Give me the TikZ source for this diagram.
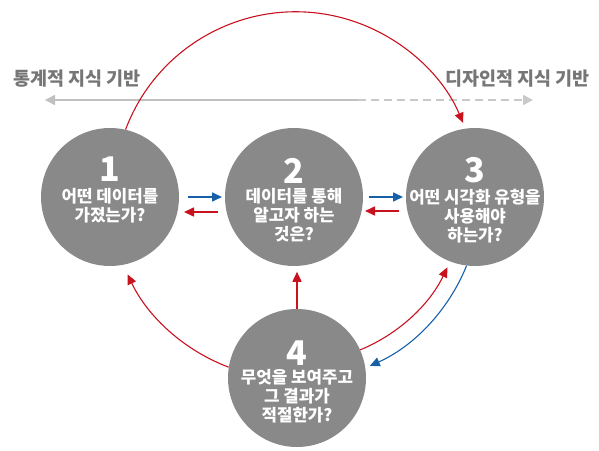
\documentclass[tikz,border=0pt]{standalone}
\usepackage{fontspec}
\newfontfamily\kr{Noto Sans CJK KR}
\usetikzlibrary{arrows.meta,calc}
\definecolor{cgray}{RGB}{137,137,137}
\definecolor{cred}{RGB}{200,18,30}
\definecolor{cblue}{RGB}{22,96,168}
\definecolor{lgray}{RGB}{192,192,192}
\definecolor{tgray}{RGB}{118,118,118}
\begin{document}
\begin{tikzpicture}[x=1pt,y=1pt,
  circ/.style={circle,fill=cgray,minimum size=138pt,inner sep=0pt},
  num/.style={text=white,font=\kr\bfseries\fontsize{34}{34}\selectfont,inner sep=0pt,anchor=north},
  lbl/.style={text=white,font=\kr\bfseries\fontsize{16.8}{19}\selectfont,inner sep=0pt,anchor=north,align=center},
  toplbl/.style={text=tgray,font=\kr\bfseries\fontsize{18.5}{18.5}\selectfont,inner sep=0pt},
  redarr/.style={draw=cred,line width=1.1pt,-{Triangle[length=10pt,width=9pt]}},
  bluearr/.style={draw=cblue,line width=1.1pt,-{Triangle[length=10pt,width=9pt]}},
  hred/.style={draw=cred,line width=1.6pt,-{Triangle[length=10pt,width=9pt]}},
  hblue/.style={draw=cblue,line width=1.6pt,-{Triangle[length=10pt,width=9pt]}},
  gline/.style={draw=lgray,line width=1.5pt}
]
\useasboundingbox (0,0) rectangle (599,450);
% circles
\node[circ] (c1) at (110,253) {};
\node[circ] (c2) at (294,253) {};
\node[circ] (c3) at (475,253) {};
\node[circ] (c4) at (297,72) {};
% texts
\node[num] (n1) at ($(c1.center)+(0,40)$) {1};
\node[lbl] (t1) at ($(c1.center)+(0,9)$) {어떤 데이터를\\가졌는가?};
\node[num] (n2) at ($(c2.center)+(0,39)$) {2};
\node[lbl] (t2) at ($(c2.center)+(0,9)$) {데이터를 통해\\알고자 하는\\것은?};
\node[num] (n3) at ($(c3.center)+(0,40)$) {3};
\node[lbl] (t3) at ($(c3.center)+(0,8)$) {어떤 시각화 유형을\\사용해야\\하는가?};
\node[num] (n4) at ($(c4.center)+(0,37)$) {4};
\node[lbl] (t4) at ($(c4.center)+(0,8.5)$) {무엇을 보여주고\\그 결과가\\적절한가?};
% top labels
\node[toplbl,anchor=north west] (L) at (13,380.5) {통계적 지식 기반};
\node[toplbl,anchor=north east] (R) at (590,380.5) {디자인적 지식 기반};
% gray axis
\coordinate (gl) at (45,350);
\coordinate (gm) at (358,350);
\coordinate (gr) at (533,350);
\draw[gline,{Triangle[length=10pt,width=10pt]}-] (gl) -- (gm);
\draw[gline,draw=lgray!85,dash pattern=on 8pt off 5pt,-{Triangle[length=10pt,width=10pt]}] (gm) -- (gr);
% top arc 1 -> 3
\draw[redarr] (c1.77) arc[start angle=159.4,end angle=22.9,radius=181.7];
% horizontal arrows
\draw[hblue] ($(c1.center)+(78,0)$) -- ($(c2.center)+(-72,0)$);
\draw[hred] ($(c2.center)+(-76,-15)$) -- ($(c1.center)+(74,-15)$);
\draw[hblue] ($(c2.center)+(75,0)$) -- ($(c3.center)+(-72,0)$);
\draw[hred] ($(c3.center)+(-76,-14)$) -- ($(c2.center)+(71,-14)$);
% bottom arrows
\draw[redarr] (c4.171) arc[start angle=-110.7,end angle=-154.4,radius=184.5];
\draw[hred] (c4.north) -- ++(0,37);
\draw[redarr] (c4.24) arc[start angle=-67.6,end angle=-25.5,radius=167];
\draw[bluearr] (c3.263) arc[start angle=-22,end angle=-66,radius=186];
\end{tikzpicture}
\end{document}
